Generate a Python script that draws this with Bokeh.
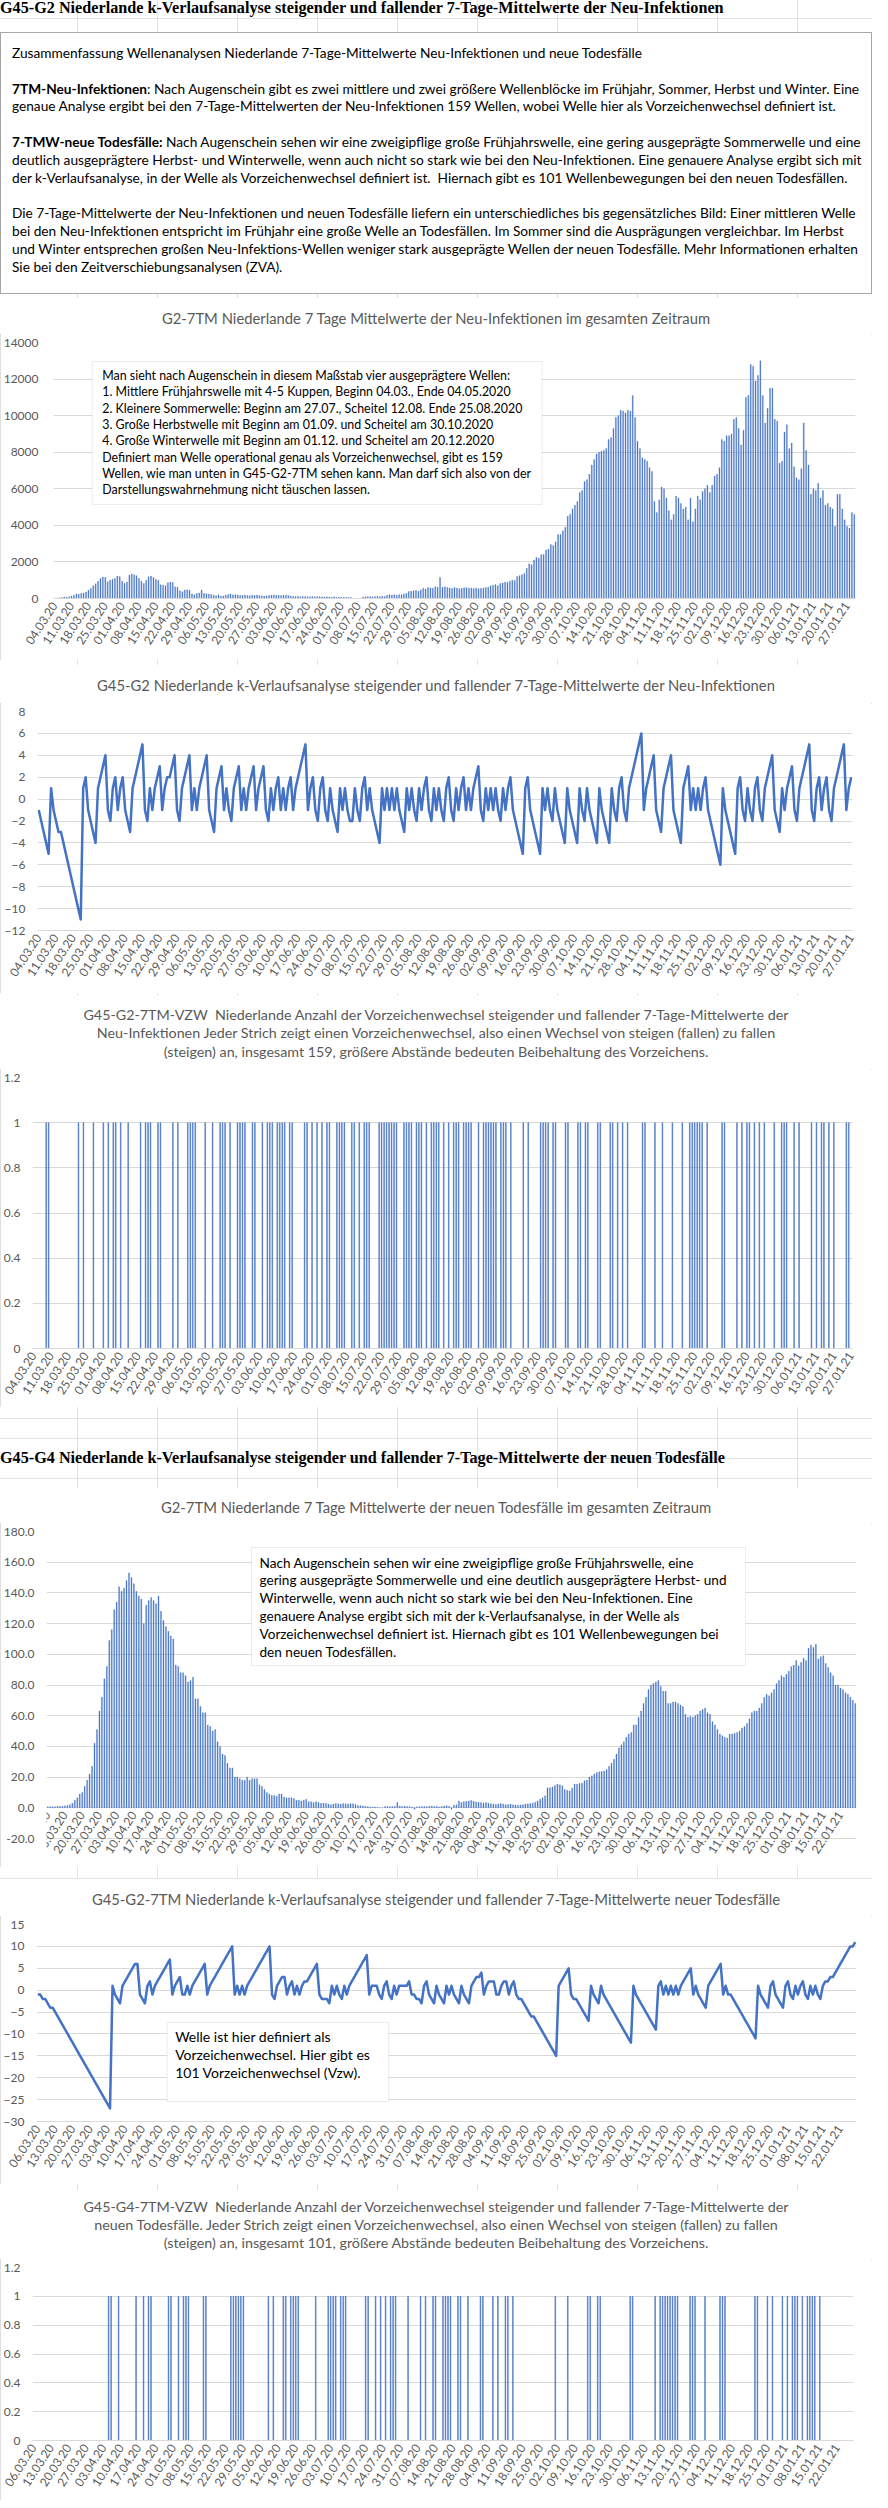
import math
from datetime import date, timedelta
from bokeh.plotting import figure
from bokeh.models import (Div, Spacer, Label, LabelSet, BoxAnnotation, FixedTicker,
                          NumeralTickFormatter, ColumnDataSource, Range1d)
from bokeh.layouts import column
from bokeh.embed import file_html
from bokeh.resources import INLINE
from bokeh.core.properties import value

BLUE = "#4472C4"
TXT = "#595959"
GRID = "#d9d9d9"
FONT = "Lato"
W = 872

# ---------------- data ----------------
inf_start = date(2020, 3, 4)   # first day of the infection series
dea_start = date(2020, 3, 6)   # first day of the death series

# G2-7TM: 7-day means of new infections (daily, from 04.03.20)
inf_7tm = [
    20, 30, 40, 60, 80, 70, 100,
    130, 180, 250, 230, 280, 300, 350,
    450, 550, 700, 800, 950, 1100, 1180,
    1150, 920, 1000, 1050, 1100, 1230, 1200,
    950, 830, 900, 1280, 1340, 1300, 1250,
    1100, 950, 820, 1000, 1190, 1230, 1150,
    1050, 1000, 750, 730, 700, 860, 900,
    880, 640, 620, 420, 370, 460, 480,
    450, 250, 200, 280, 300, 460, 280,
    260, 250, 220, 180, 150, 200, 130,
    140, 180, 220, 250, 200, 210, 190,
    180, 170, 190, 160, 150, 180, 170,
    190, 160, 150, 130, 140, 170, 180,
    190, 170, 180, 160, 175, 185, 170,
    130, 120, 110, 125, 100, 115, 105,
    100, 95, 110, 90, 105, 95, 90,
    85, 95, 80, 75, 90, 70, 80,
    75, 65, 70, 60, 55, 5, 0,
    0, 10, 80, 90, 100, 110, 95,
    110, 120, 100, 130, 115, 180, 200,
    190, 210, 180, 220, 200, 250, 280,
    380, 400, 420, 450, 400, 470, 560,
    520, 600, 580, 560, 640, 620, 1150,
    620, 640, 600, 580, 550, 600, 570,
    540, 560, 590, 600, 560, 580, 550,
    570, 540, 560, 580, 600, 620, 700,
    730, 760, 700, 820, 850, 900, 880,
    950, 1000, 980, 1200, 1250, 1300, 1370,
    1650, 1900, 1850, 2100, 2250, 2200, 2400,
    2400, 2650, 2700, 2950, 2900, 3100, 3500,
    3500, 3700, 3900, 4500, 4600, 4900, 5100,
    5300, 5800, 5900, 6400, 6500, 6800, 7300,
    7600, 7900, 8000, 8050, 8100, 8200, 8700,
    8800, 9300, 9900, 10000, 10300, 10250, 10150,
    10300, 10250, 11100, 9900, 8600, 8200, 7700,
    7600, 7500, 7150, 6950, 5300, 4700, 5400,
    6100, 6000, 5500, 4800, 4300, 4600, 5600,
    5500, 5200, 4900, 5000, 4300, 5500, 4200,
    4900, 5600, 5400, 5850, 6000, 6200, 5800,
    6200, 6700, 6800, 7150, 8700, 8600, 8900,
    8900, 9000, 9800, 9900, 9300, 8400, 9200,
    11000, 11100, 12800, 12700, 11900, 12200, 13000,
    11100, 9600, 10400, 11500, 11500, 9800, 9700,
    7400, 7500, 9100, 9500, 8200, 8500, 7200,
    6600, 6500, 7100, 9600, 8100, 7300, 5700,
    6000, 5900, 6300, 5500, 5900, 5100, 5200,
    5000, 4900, 3950, 5700, 5700, 4900, 4300,
    3950, 3850, 4700, 4600,
]

# G45-G2: k-values of the infection series, days 04.03.20 .. 29.08.20
inf_k_head = [
    -1, -2, -3, -4, -5, 1,
    -1, -2, -3, -3, -4, -5, -6, -7, -8, -9, -10, -11,
    1, 2, -1, -2, -3, -4, 1, 2, 3, 4, -1, -2, 1, 2, -1, 1, 2, -1, -2, -3,
    1, 2, 3, 4, 5, -1, -2, 1, -1, 1, 2, 3, -1, 1, 2, 2, 3, 4, -1, -2,
    1, 2, 3, 4, -1, 1, -1, 1, 2, 3, 4, -1, -2, -3, 1, 2, 3, -1, 1, -1, -2,
    1, 2, 3, -1, 1, -1, 1, 2, 3, -1, 1, 2, 3, -1, -2, 1, -1, 1, 2, -1, 1, -1,
    1, 2, -1, 1, 2, 3, 4, 5, -1, 1, 2, -1, -2, 1, 2, -1, -2, 1, -1, -2, -3,
    1, -1, 1, -1, -2, -2, 1, -1, -2, 1, 2, -1, 1, -1, -2, -3, -4,
    1, -1, 1, -1, 1, -1, 1, -1, -2, -3, 1, -1, 1, -1, -2, 1, -1, 1, 2, -1, -2,
    1, -1, 1, -1, -2, 1, 2, -1, -2, 1, -1, 1, 2, -1, 1, -1, 1, 2, 3,
]
# ... and from 30.08.20 on, written as runs of equal sign (-5 = k -1..-5)
inf_k_tail_runs = [
    -2, 1, -1, 1, -1, 1, -2, 1, -1, 2, -5, 2, -5, 1, -1, 1, -2, 1, -4, 1,
    -4, 1, -2, 1, -4, 1, -4, 1, -2, 2, -2, 6, -1, 4, -3, 4, -4, 3, -1, 1,
    -1, 1, -1, 2, -6, 1, -5, 2, -2, 1, -2, 2, -2, 4, -3, 1, -1, 3, -2, 5,
    -2, 2, -1, 2, -2, 5, -1, 2,
]

# G2-7TM: 7-day means of new deaths (daily, from 06.03.20)
dea_7tm = [
    0.7, 0.7, 0.7, 0.7, 1, 1, 1,
    1.3, 1.5, 2, 3, 5, 6.5, 9,
    10, 14, 18, 22, 27, 42, 51,
    63, 72, 84, 92, 109, 116, 129,
    134, 144, 141, 143, 148, 153, 150,
    146, 141, 138, 136, 120, 132, 135,
    137, 135, 133, 138, 128, 122, 118,
    115, 112, 110, 93, 92, 88, 88,
    86, 82, 83, 85, 71, 71, 66,
    62, 62, 54, 53, 50, 51, 43,
    40, 35, 34, 29, 26, 26, 20,
    20, 19, 18, 18, 20, 18, 19,
    19, 19, 15, 14, 12, 10, 9,
    8, 8, 7.6, 9, 9, 7, 6.5,
    6.5, 6.5, 6, 5, 5, 4.5, 5,
    5.5, 4, 4, 3.5, 4, 3.5, 3,
    3, 3, 2.5, 2, 2.5, 2.8, 2.6,
    2.5, 2.8, 2.6, 2.4, 2.8, 2.6, 2.2,
    1.5, 1.4, 1.2, 1.0, 0.8, 0.6, 0.5,
    0.6, 0.3, 0, 0, 0.8, 0.8, 0.8,
    0.8, 1, 3.5, 1.2, 0.9, 1, 0.8,
    0.9, 0.5, -1, 0.7, 0.7, 0.8, 0.9,
    0.7, 1, 1.2, 0.8, 1, 0.6, 0.8,
    1.2, 1.4, 1.0, -1, 1.6, 2, 4.5,
    3.5, 4, 4.2, 4.5, 4.8, 4.3, 3.8,
    3.6, 3.5, 3.2, 3.4, 3.0, 2.6, 2.4,
    2.2, 2.5, 2.8, 2.4, 2.0, 2.1, 2.4,
    2.0, 1.8, 1.6, 1.8, 2.0, 2.4, 2.6,
    2.8, 3.0, 3.6, 4.5, 5.5, 6.5, 7.8,
    13, 13, 13.5, 14.5, 15.5, 15, 14.3,
    12, 11.5, 11, 12.8, 15.5, 15.4, 15.8,
    16, 17.6, 18, 20, 20.8, 22, 23,
    23.5, 23.7, 24, 25, 27, 29, 31.7,
    35, 39, 41, 43, 46, 48, 49,
    54, 54, 59, 63, 68, 72, 77,
    80, 81, 82, 83, 79, 76, 76,
    68, 68, 69, 69, 68, 67, 66,
    61, 59, 59.5, 59, 60, 61, 63,
    64, 65, 62, 61, 56, 54, 51,
    48, 47, 46, 45.5, 48, 48, 48.5,
    49, 50, 52, 53, 55, 58, 62,
    63, 63, 65, 68, 72, 74, 73,
    75, 77, 81, 83, 86, 85, 87,
    89, 92, 93, 96, 92.5, 94.7, 97.5,
    96, 104, 106, 104.5, 106.6, 97, 98.4,
    99, 94, 91.4, 88, 86, 80, 80,
    78, 77, 75, 74, 72, 70, 68,
]

# G45-G2-7TM: k-values of the death series (daily, from 06.03.20)
dea_k = [
    -1, -1, -2, -2, -3, -4, -4, -5, -6, -7, -8, -9, -10, -11, -12, -13, -14,
    -15, -16, -17, -18, -19, -20, -21, -22, -23, -24, -25, -26, -27,
    1, -1, -2, -3, 1, 2, 3, 4, 5, 6, 6, -1, -2, -3, 1, 2, -1,
    1, 2, 3, 4, 5, 6, 7, -1, 1, 2, 3, -1, -1, 1, -1, 1, 2, 3, 4, 5, 6, -1,
    1, 2, 3, 4, 5, 6, 7, 8, 9, 10, -1, 1, -1, 1, -1,
    1, 2, 3, 4, 5, 6, 7, 8, 9, 10, -1, -2, 1, 2, 3, 3, -1, 1, 2, -1, 1, -1,
    1, 2, 2, 3, 4, 5, 6, -1, -2, -2, -2, -3, 1, -1, 1, -1, -2, 1, -1,
    1, 2, 3, 4, 5, 6, 7, 8, -1, 1, 1, 1, -1, -2, 1, 2, -1, -2, 1, -1,
    1, 1, 1, 1, 2, -1, -1, -2, -2, -3, 1, 2, -1, -2, -3, 1, -1, -2, -3,
    1, -1, 1, -1, -2, -3, 1, -1, -2, -3, 1, 2, 3, 3, 4, -1, 1, 2, 2, 2,
    -1, -1, 1, 2, 2, -1, 1, 2,
    -1, -2, -2, -3, -4, -5, -6, -6, -7, -8, -9, -10, -11, -12, -13, -14, -15,
    1, 2, 3, 4, 5, -1, -2, -2, -3, -4, -5, -6, -7, 1, -1, -2, -3, 1,
    -1, -2, -3, -4, -5, -6, -7, -8, -9, -10, -11, -12, 1,
    -1, -2, -3, -4, -5, -6, -7, -8, -9, 1, 2, -1, 1, -1, 1, -1, 1, -1,
    1, 2, 3, 4, 5, -1, 1, -1, -2, -3, -4, 1, 2, 3, 4, 5, 6, -1, 1,
    -1, -1, -2, -3, -4, -5, -6, -7, -8, -9, -10, -11, 1, -1, -2, -3, -4,
    1, 2, -1, -2, -3, -4, 1, 2, -1, -2, 1, -1, 1, 2, -1, -2, 1, -1, 1, -1, -2,
    1, 2, 2, 3, 3, 4, 5, 6, 7, 8, 9, 10, 10, 11,
]

# ---------------- derived series for display ----------------
inf_k = list(inf_k_head)
for r in inf_k_tail_runs:
    s = 1 if r > 0 else -1
    inf_k += [s * i for i in range(1, abs(r) + 1)]

def sign_changes(vals):
    return [i for i in range(1, len(vals)) if (vals[i] > 0) != (vals[i - 1] > 0)]

inf_vzw_days = sign_changes(inf_k)
dea_vzw_days = sign_changes(dea_k)

def weekly(start, n):
    ticks = list(range(0, n, 7))
    labels = [(start + timedelta(days=t)).strftime("%d.%m.%y") for t in ticks]
    return ticks, labels

inf1_ticks, inf1_labels = weekly(inf_start, len(inf_7tm))
inf2_ticks, inf2_labels = weekly(inf_start, len(inf_k))
dea_ticks, dea_labels = weekly(dea_start, len(dea_7tm))

# ---------------- helpers ----------------
XANG = math.radians(57)
LBL = "12px"
BOX = {"outline": "1px solid #d4d4d4", "outline-offset": "-1px"}
SHEET = {
    "background-color": "#ffffff",
    "background-image": "linear-gradient(to right, #e2e2e2 1px, transparent 1px),"
                        "linear-gradient(to bottom, #e2e2e2 1px, transparent 1px)",
    "background-size": "80px 20px",
    "background-position": "77px 18px",
}

def dx(g, px):
    x0, x1 = g["xr"]
    return x0 + (px - g["fl"]) * (x1 - x0) / (g["fr"] - g["fl"])

def dy(g, py):
    y0, y1 = g["yr"]
    return y1 - (py - g["ft"]) * (y1 - y0) / (g["fb"] - g["ft"])

def title_div(g, lines, size, lh, first_center):
    th = g["ft"] - g["top"] - 8
    pad = first_center - g["top"] - lh / 2
    html = ("<div style=\"width:%dpx;height:%dpx;box-sizing:border-box;padding-top:%.1fpx;"
            "background:#fff;text-align:center;font-family:Lato;font-size:%.1fpx;line-height:%.1fpx;"
            "color:%s;white-space:nowrap;\">%s</div>" % (W, th, pad, size, lh, TXT, "<br>".join(lines)))
    return Div(text=html, width=W, height=th, margin=(0, 0, 0, 0))

def make_fig(g, yticks, yfmt=None, xticks=None, xlabels=None):
    top = g["ft"] - 8
    p = figure(width=W, height=g["top"] + g["h"] - top,
               x_range=Range1d(*g["xr"]), y_range=Range1d(*g["yr"]),
               output_backend="svg", toolbar_location=None,
               min_border_left=g["fl"] - 8, min_border_right=880 - g["fr"],
               min_border_top=8,
               min_border_bottom=g["top"] + g["h"] - g["fb"], margin=(0, 0, 0, 0))
    p.outline_line_color = None
    p.xgrid.grid_line_color = None
    ya = p.yaxis[0]
    ya.ticker = FixedTicker(ticks=yticks)
    p.ygrid.ticker = ya.ticker
    p.ygrid.grid_line_color = GRID
    if yfmt is not None:
        ya.formatter = yfmt
    ya.axis_line_color = None
    ya.major_tick_line_color = None
    ya.minor_tick_line_color = None
    ya.major_tick_out = 0
    ya.major_tick_in = 0
    ya.minor_tick_out = 0
    ya.major_label_text_font = FONT
    ya.major_label_text_font_size = LBL
    ya.major_label_text_color = TXT
    ya.major_label_standoff = g.get("ystand", 10)
    xa = p.xaxis[0]
    if xticks is not None:
        xa.ticker = FixedTicker(ticks=xticks)
        xa.major_label_overrides = dict(zip(xticks, xlabels))
        xa.major_label_orientation = XANG
        xa.axis_line_color = GRID
        xa.major_tick_line_color = None
        xa.minor_tick_line_color = None
        xa.major_tick_out = 0
        xa.major_tick_in = 0
        xa.minor_tick_out = 0
        xa.major_label_standoff = 5
        xa.major_label_text_font = FONT
        xa.major_label_text_font_size = LBL
        xa.major_label_text_color = TXT
    else:
        xa.visible = False
    return p

def add_text(p, g, px, py, text, size, color="#000000", align="left"):
    p.add_layout(Label(x=dx(g, px), y=dy(g, py), text=text, text_align=align,
                       text_baseline="middle", text_font=FONT,
                       text_font_size=f"{size}px", text_color=color))

def add_box(p, g, x0, y0, x1, y1):
    p.add_layout(BoxAnnotation(left=dx(g, x0), right=dx(g, x1), top=dy(g, y0), bottom=dy(g, y1),
                               fill_color="white", fill_alpha=1,
                               line_color="#bfbfbf", line_width=1))

def sp(h):
    return Spacer(width=W, height=h, margin=(0, 0, 0, 0))

def chart(title, fig):
    return column(title, fig, spacing=0, margin=(0, 0, 0, 0), styles=BOX)

# ---------------- header + summary ----------------
hdr_style = ("font-family:'Liberation Serif';font-weight:bold;font-size:16.2px;"
             "line-height:16px;white-space:nowrap;color:#000;")
header1 = Div(width=W, height=24, margin=(0, 0, 0, 0),
              text=f"<div style=\"{hdr_style}padding-top:0px;\">G45-G2 Niederlande k-Verlaufsanalyse "
                   "steigender und fallender 7-Tage-Mittelwerte der Neu-Infektionen</div>")

summary_html = (
    "Zusammenfassung Wellenanalysen Niederlande 7-Tage-Mittelwerte Neu-Infektionen und neue Todesfälle<br><br>"
    "<b>7TM-Neu-Infektionen</b>: Nach Augenschein gibt es zwei mittlere und zwei größere Wellenblöcke im Frühjahr, Sommer, Herbst und Winter. Eine<br>"
    "genaue Analyse ergibt bei den 7-Tage-Mittelwerten der Neu-Infektionen 159 Wellen, wobei Welle hier als Vorzeichenwechsel definiert ist.<br><br>"
    "<b>7-TMW-neue Todesfälle:</b> Nach Augenschein sehen wir eine zweigipflige große Frühjahrswelle, eine gering ausgeprägte Sommerwelle und eine<br>"
    "deutlich ausgeprägtere Herbst- und Winterwelle, wenn auch nicht so stark wie bei den Neu-Infektionen. Eine genauere Analyse ergibt sich mit<br>"
    "der k-Verlaufsanalyse, in der Welle als Vorzeichenwechsel definiert ist.&nbsp; Hiernach gibt es 101 Wellenbewegungen bei den neuen Todesfällen.<br><br>"
    "Die 7-Tage-Mittelwerte der Neu-Infektionen und neuen Todesfälle liefern ein unterschiedliches bis gegensätzliches Bild: Einer mittleren Welle<br>"
    "bei den Neu-Infektionen entspricht im Frühjahr eine große Welle an Todesfällen. Im Sommer sind die Ausprägungen vergleichbar. Im Herbst<br>"
    "und Winter entsprechen großen Neu-Infektions-Wellen weniger stark ausgeprägte Wellen der neuen Todesfälle. Mehr Informationen erhalten<br>"
    "Sie bei den Zeitverschiebungsanalysen (ZVA)."
)
summary = Div(width=W, height=262, margin=(0, 0, 0, 0),
              text="<div style=\"box-sizing:border-box;width:872px;height:262px;border:1px solid #a6a6a6;"
                   "background:#fff;padding:11px 11px;font-family:Lato;font-size:13.7px;line-height:17.8px;"
                   "white-space:nowrap;overflow:hidden;color:#000;\">" + summary_html + "</div>")

# ---------------- chart 1: infections 7TM ----------------
g1 = dict(top=298, h=362, fl=57, ft=342, fr=863, fb=598,
          xr=(-0.5, len(inf_7tm) - 0.5), yr=(0, 14000), ystand=15)
t1 = title_div(g1, ["G2-7TM Niederlande 7 Tage Mittelwerte der Neu-Infektionen im gesamten Zeitraum"],
               14.8, 18, 318)
p1 = make_fig(g1, list(range(0, 14001, 2000)), None, inf1_ticks, inf1_labels)
p1.vbar(x=list(range(len(inf_7tm))), top=inf_7tm, width=0.4, bottom=0,
        fill_color=BLUE, line_color=BLUE, line_width=0.3)
add_box(p1, g1, 96, 361, 548, 504)
ann1 = [
    "Man sieht nach Augenschein in diesem Maßstab vier ausgeprägtere Wellen:",
    "1. Mittlere Frühjahrswelle mit 4-5 Kuppen, Beginn 04.03., Ende 04.05.2020",
    "2. Kleinere Sommerwelle: Beginn am 27.07., Scheitel 12.08. Ende 25.08.2020",
    "3. Große Herbstwelle mit Beginn am 01.09. und  Scheitel am 30.10.2020",
    "4. Große Winterwelle mit Beginn am 01.12. und Scheitel am 20.12.2020",
    "Definiert man Welle operational genau als Vorzeichenwechsel, gibt es 159",
    "Wellen, wie man unten in G45-G2-7TM sehen kann. Man darf sich also von der",
    "Darstellungswahrnehmung nicht täuschen lassen.",
]
for i, t in enumerate(ann1):
    add_text(p1, g1, 106, 375 + i * 16.3, t, 12.4)

# ---------------- chart 2: infections k ----------------
g2 = dict(top=665, h=328, fl=45, ft=711, fr=860, fb=930,
          xr=(-0.5, len(inf_k) - 0.5), yr=(-12, 8), ystand=12)
t2 = title_div(g2, ["G45-G2 Niederlande k-Verlaufsanalyse steigender und fallender 7-Tage-Mittelwerte der Neu-Infektionen"],
               14.8, 18, 685)
p2 = make_fig(g2, list(range(-12, 9, 2)), None, inf2_ticks, inf2_labels)
p2.line(x=list(range(len(inf_k))), y=inf_k, line_color=BLUE, line_width=2.5, line_join="round")

# ---------------- chart 3: infections VZW ----------------
g3 = dict(top=996, h=411, fl=40, ft=1077, fr=860, fb=1348,
          xr=(-0.5, len(inf_k) - 0.5), yr=(0, 1.2), ystand=12)
t3 = title_div(g3, ["G45-G2-7TM-VZW&nbsp; Niederlande Anzahl der Vorzeichenwechsel steigender und fallender 7-Tage-Mittelwerte der",
                    "Neu-Infektionen Jeder Strich zeigt einen Vorzeichenwechsel, also einen Wechsel von steigen (fallen) zu fallen",
                    "(steigen) an, insgesamt 159, größere Abstände bedeuten Beibehaltung des Vorzeichens."],
               14.3, 18.5, 1015)
p3 = make_fig(g3, [0, 0.2, 0.4, 0.6, 0.8, 1.0, 1.2], NumeralTickFormatter(format="0.[0]"),
              inf2_ticks, inf2_labels)
p3.vbar(x=inf_vzw_days, top=[1] * len(inf_vzw_days), width=0.3, bottom=0,
        fill_color=BLUE, line_color=BLUE, line_width=0.5)

header2 = Div(width=W, height=27, margin=(0, 0, 0, 0),
              text=f"<div style=\"{hdr_style}padding-top:5px;\">G45-G4 Niederlande k-Verlaufsanalyse "
                   "steigender und fallender 7-Tage-Mittelwerte der neuen Todesfälle</div>")

# ---------------- chart 4: deaths 7TM ----------------
# frame reaches to the bottom of the chart so that the hanging date labels stay visible
g4 = dict(top=1488, h=379, fl=54, ft=1531, fr=864, fb=1865,
          xr=(-0.5, len(dea_7tm) - 0.5), yr=(-20 - 27 * 200 / 307, 180), ystand=12)
t4 = title_div(g4, ["G2-7TM Niederlande 7 Tage Mittelwerte der neuen Todesfälle im gesamten Zeitraum"],
               14.8, 18, 1507)
p4 = make_fig(g4, list(range(-20, 181, 20)), NumeralTickFormatter(format="0.0"))
p4.vbar(x=list(range(len(dea_7tm))), top=dea_7tm, width=0.4, bottom=0,
        fill_color=BLUE, line_color=BLUE, line_width=0.3)
lab4 = ColumnDataSource(dict(x=dea_ticks, y=[0] * len(dea_ticks), text=dea_labels))
p4.add_layout(LabelSet(x="x", y="y", text="text", source=lab4, angle=XANG,
                       text_align="right", text_baseline="middle", y_offset=-5,
                       text_font=value(FONT), text_font_size=value(LBL),
                       text_color=TXT))
add_box(p4, g4, 259, 1547, 753, 1665)
ann4 = [
    "Nach Augenschein sehen wir eine zweigipflige große Frühjahrswelle, eine",
    "gering ausgeprägte Sommerwelle und eine deutlich ausgeprägtere Herbst- und",
    "Winterwelle, wenn auch nicht so stark wie bei den Neu-Infektionen. Eine",
    "genauere Analyse ergibt sich mit der k-Verlaufsanalyse, in der Welle als",
    "Vorzeichenwechsel definiert ist.  Hiernach gibt es 101 Wellenbewegungen bei",
    "den neuen Todesfällen.",
]
for i, t in enumerate(ann4):
    add_text(p4, g4, 267, 1562 + i * 17.8, t, 13.6)

# ---------------- chart 5: deaths k ----------------
g5 = dict(top=1879, h=305, fl=42, ft=1924, fr=864, fb=2121,
          xr=(-0.5, len(dea_k) - 0.5), yr=(-30, 15), ystand=12)
t5 = title_div(g5, ["G45-G2-7TM Niederlande k-Verlaufsanalyse steigender und fallender 7-Tage-Mittelwerte neuer Todesfälle"],
               14.8, 18, 1899)
p5 = make_fig(g5, list(range(-30, 16, 5)), None, dea_ticks, dea_labels)
p5.line(x=list(range(len(dea_k))), y=dea_k, line_color=BLUE, line_width=2.5, line_join="round")
add_box(p5, g5, 173, 2022, 395, 2101)
for i, t in enumerate(["Welle ist hier definiert als", "Vorzeichenwechsel. Hier gibt es",
                       "101 Vorzeichenwechsel (Vzw)."]):
    add_text(p5, g5, 181, 2036 + i * 18, t, 14)

# ---------------- chart 6: deaths VZW ----------------
g6 = dict(top=2190, h=310, fl=40, ft=2267, fr=861, fb=2440,
          xr=(-0.5, len(dea_k) - 0.5), yr=(0, 1.2), ystand=12)
t6 = title_div(g6, ["G45-G4-7TM-VZW&nbsp; Niederlande Anzahl der Vorzeichenwechsel steigender und fallender 7-Tage-Mittelwerte der",
                    "neuen Todesfälle. Jeder Strich zeigt einen Vorzeichenwechsel, also einen Wechsel von steigen (fallen) zu fallen",
                    "(steigen) an, insgesamt 101, größere Abstände bedeuten Beibehaltung des Vorzeichens."],
               14.3, 18, 2207)
p6 = make_fig(g6, [0, 0.2, 0.4, 0.6, 0.8, 1.0, 1.2], NumeralTickFormatter(format="0.[0]"),
              dea_ticks, dea_labels)
p6.vbar(x=dea_vzw_days, top=[1] * len(dea_vzw_days), width=0.3, bottom=0,
        fill_color=BLUE, line_color=BLUE, line_width=0.5)

layout = column(
    header1, sp(8), summary, sp(4),
    chart(t1, p1), sp(5), chart(t2, p2), sp(3), chart(t3, p3),
    sp(38), header2, sp(16),
    chart(t4, p4), sp(12), chart(t5, p5), sp(6), chart(t6, p6),
    spacing=0, styles=SHEET,
)

open("out.html", "w").write(file_html(layout, INLINE))
